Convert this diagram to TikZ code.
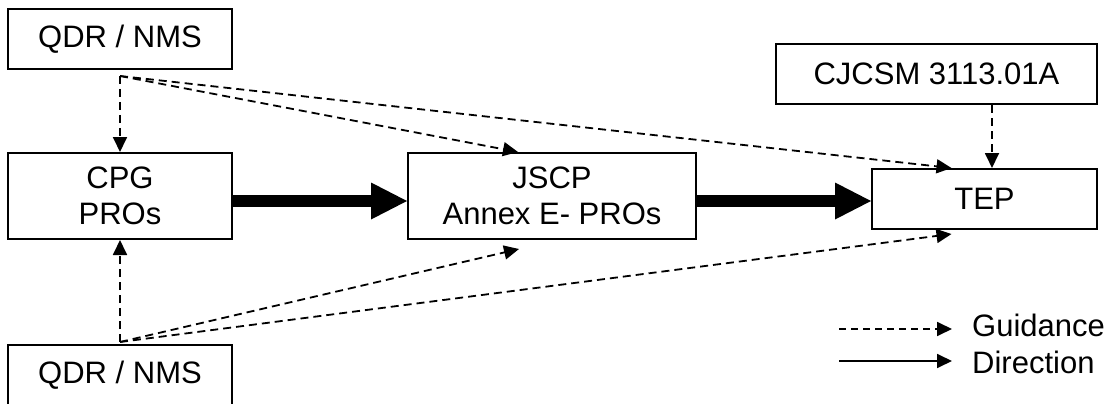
\documentclass[tikz,border=0pt]{standalone}
\usepackage{fontspec}
\setmainfont{Liberation Sans}
\usetikzlibrary{positioning, arrows.meta, calc}

\begin{document}
\begin{tikzpicture}[x=1pt, y=-1pt,
    doc/.style={draw, line width=2pt, inner sep=0pt, minimum width=224pt,
                minimum height=60pt, align=center, font=\fontsize{31}{36}\selectfont},
    guide/.style={line width=1.8pt, dash pattern=on 8pt off 5pt,
                  -{Triangle[length=15pt, width=14pt]}},
    flow/.style={line width=12pt, -{Triangle[length=36pt, width=37pt, line width=0pt]}},
    key/.style={font=\fontsize{31}{36}\selectfont, inner sep=0pt, anchor=west}
  ]
  \useasboundingbox (0,0) rectangle (1112,404);

  \node[doc] (qtop) at (120,39) {QDR / NMS};
  \node[doc, minimum height=86pt] (cpg) at (120,196) {CPG\\PROs};
  \node[doc, minimum width=288pt, minimum height=86pt] (jscp) at (552,196) {JSCP\\Annex E- PROs};
  \node[doc, minimum width=225pt] (tep) at (984.5,199) {TEP};
  \node[doc, minimum width=321pt] (cjcsm) at (936.5,74) {CJCSM 3113.01A};
  \node[doc] (qbot) at (120,375) {QDR / NMS};

  % direction
  \draw[flow] ($(cpg.east)+(0,5)$) -- ($(jscp.west)+(0,5)$);
  \draw[flow] ($(jscp.east)+(0,5)$) -- ($(tep.west)+(0,2)$);

  % guidance
  \coordinate (qs) at ($(qtop.south)+(0,6)$);
  \draw[guide] (qs) -- (cpg.north);
  \draw[guide] (qs) -- ($(jscp.north)+(-34,0)$);
  \draw[guide] (qs) -- ($(tep.north)+(-33,0)$);
  \draw[guide] ($(cjcsm.south)+(55.5,0)$) -- ($(tep.north)+(7.5,0)$);

  \coordinate (qb) at ($(qbot.north)+(0,-2)$);
  \draw[guide] (qb) -- (cpg.south);
  \draw[guide] (qb) -- ($(jscp.south)+(-33,9)$);
  \draw[guide] (qb) -- ($(tep.south)+(-33,4)$);

  % legend
  \node[key] (guid) at (972,325) {Guidance};
  \node[key] (dirn) at (972,362) {Direction};
  \coordinate (gk) at (839,329);
  \coordinate (dk) at (839,361);
  \draw[guide, dash pattern=on 7pt off 5pt, shorten >=20pt] (gk) -- (gk -| guid.west);
  \draw[line width=1.8pt, -{Triangle[length=15pt, width=14pt]}, shorten >=20pt]
       (dk) -- (dk -| dirn.west);
\end{tikzpicture}
\end{document}
